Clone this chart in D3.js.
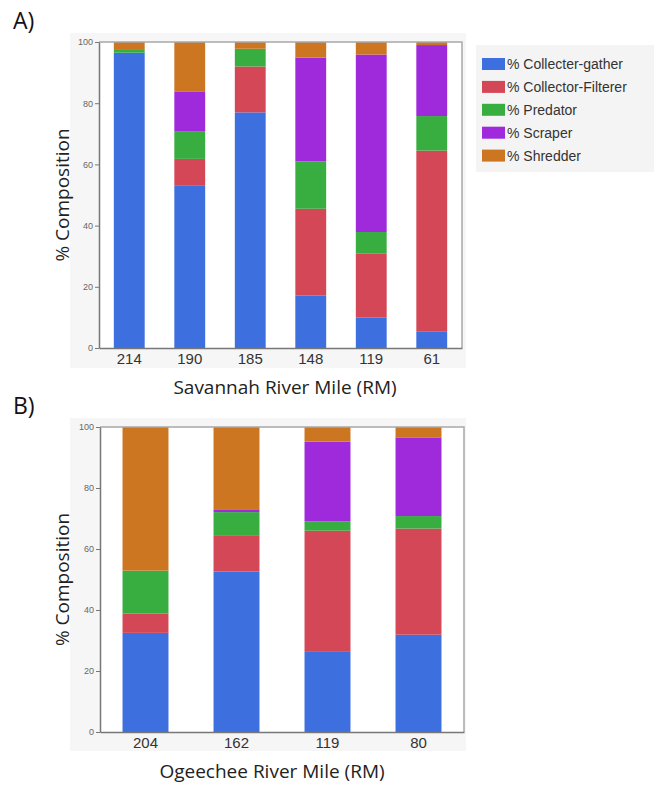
<!DOCTYPE html>
<html lang="en">
<head>
    <meta charset="UTF-8">
    <title>Functional feeding group composition</title>
    <script src="https://d3js.org/d3.v7.min.js"></script>
    <style>
        body { margin: 0; background: #fff; }
        svg { display: block; }
    </style>
</head>
<body>
    <div id="chart"></div>
    <script>
        // series (functional feeding groups) and colours
        const groupNames = ['% Collecter-gather', '% Collector-Filterer', '% Predator', '% Scraper', '% Shredder'];
        const groupColors = ['#3d6fdf', '#d44757', '#38ae41', '#9e2adc', '#cd7622'];

        // A) Savannah River
        const savannahMiles = ['214', '190', '185', '148', '119', '61'];
        const savCollecterGather = [96.5, 53.0, 77.0, 17.2, 9.9, 5.3];
        const savCollectorFilterer = [0, 8.8, 15.0, 28.3, 20.9, 59.2];
        const savPredator = [0.9, 8.9, 5.8, 15.5, 7.1, 11.3];
        const savScraper = [0, 13.0, 0, 33.9, 58.0, 23.2];
        const savShredder = [2.6, 16.3, 2.2, 5.1, 4.1, 1.0];

        // B) Ogeechee River
        const ogeecheeMiles = ['204', '162', '119', '80'];
        const ogeCollecterGather = [32.5, 52.6, 26.5, 31.9];
        const ogeCollectorFilterer = [6.3, 11.7, 39.5, 34.8];
        const ogePredator = [14.1, 7.8, 3.1, 4.1];
        const ogeScraper = [0, 0.7, 26.1, 25.8];
        const ogeShredder = [47.1, 27.2, 4.8, 3.4];

        const yTicks = [0, 20, 40, 60, 80, 100];

        const W = 654, H = 785;
        const svg = d3.select('#chart').append('svg')
            .attr('width', W)
            .attr('height', H);

        function buildRows(miles, series) {
            return miles.map((m, i) => {
                const row = { mile: m };
                groupNames.forEach((g, j) => { row[g] = series[j][i]; });
                return row;
            });
        }

        function drawPanel(opts) {
            const { letter, letterY, box, plot, rows, xTitle, xTitleX, xTitleY, pad } = opts;

            // light grey chart background
            svg.append('rect')
                .attr('x', box.x).attr('y', box.y)
                .attr('width', box.w).attr('height', box.h)
                .attr('fill', '#f6f6f6');

            svg.append('rect')
                .attr('x', plot.left).attr('y', plot.top)
                .attr('width', plot.right - plot.left)
                .attr('height', plot.bottom - plot.top)
                .attr('fill', '#fff');

            const x = d3.scaleBand()
                .domain(rows.map(d => d.mile))
                .range([plot.left, plot.right])
                .paddingInner(pad)
                .paddingOuter(pad / 2);

            const y = d3.scaleLinear()
                .domain([0, 100])
                .range([plot.bottom, plot.top]);

            const stacked = d3.stack().keys(groupNames)(rows);

            const g = svg.append('g');
            g.selectAll('g.layer')
                .data(stacked)
                .enter().append('g')
                .attr('class', 'layer')
                .attr('fill', (d, i) => groupColors[i])
                .selectAll('rect')
                .data(d => d)
                .enter().append('rect')
                .attr('x', d => x(d.data.mile))
                .attr('width', x.bandwidth())
                .attr('y', d => y(d[1]))
                .attr('height', d => y(d[0]) - y(d[1]));

            // frame: light top/right, darker left/bottom
            svg.append('path')
                .attr('d', `M${plot.left},${plot.top}H${plot.right}V${plot.bottom}`)
                .attr('fill', 'none')
                .attr('stroke', '#a8a8a8')
                .attr('stroke-width', 1.5);

            const yAxis = svg.append('g')
                .attr('transform', `translate(${plot.left},0)`)
                .call(d3.axisLeft(y).tickValues(yTicks).tickSize(4).tickSizeOuter(0).tickPadding(2));
            yAxis.select('.domain').attr('stroke', '#777').attr('stroke-width', 1.5);
            yAxis.selectAll('.tick line').attr('stroke', '#777');
            yAxis.selectAll('.tick text')
                .attr('fill', '#666')
                .style('font', '9px "Liberation Sans", Arial, sans-serif');

            const xAxis = svg.append('g')
                .attr('transform', `translate(0,${plot.bottom})`)
                .call(d3.axisBottom(x).tickSize(0).tickPadding(5));
            xAxis.select('.domain').attr('stroke', '#777').attr('stroke-width', 1.5);
            xAxis.selectAll('.tick text')
                .attr('fill', '#333')
                .style('font', '15px "Liberation Sans", Arial, sans-serif');

            // axis titles
            svg.append('text')
                .attr('transform', `translate(${box.x - 1},${(plot.top + plot.bottom) / 2}) rotate(-90)`)
                .attr('text-anchor', 'middle')
                .attr('fill', '#222')
                .style('font', '19px "Open Sans", sans-serif')
                .text('% Composition');

            svg.append('text')
                .attr('x', xTitleX)
                .attr('y', xTitleY)
                .attr('text-anchor', 'middle')
                .attr('fill', '#222')
                .style('font', '19px "Open Sans", sans-serif')
                .text(xTitle);

            svg.append('text')
                .attr('x', 13)
                .attr('y', letterY)
                .attr('fill', '#111')
                .style('font', '23px "Open Sans", sans-serif')
                .text(letter);
        }

        drawPanel({
            letter: 'A)', letterY: 29,
            box: { x: 70, y: 33, w: 396, h: 335 },
            plot: { left: 99, right: 462, top: 42, bottom: 348 },
            rows: buildRows(savannahMiles, [savCollecterGather, savCollectorFilterer, savPredator, savScraper, savShredder]),
            xTitle: 'Savannah River Mile (RM)', xTitleX: 285, xTitleY: 394,
            pad: 0.49
        });

        drawPanel({
            letter: 'B)', letterY: 414,
            box: { x: 70, y: 418, w: 396, h: 333 },
            plot: { left: 100, right: 464, top: 427, bottom: 732 },
            rows: buildRows(ogeecheeMiles, [ogeCollecterGather, ogeCollectorFilterer, ogePredator, ogeScraper, ogeShredder]),
            xTitle: 'Ogeechee River Mile (RM)', xTitleX: 272, xTitleY: 778,
            pad: 0.495
        });

        // legend
        const legend = svg.append('g');
        legend.append('rect')
            .attr('x', 476).attr('y', 45)
            .attr('width', 178).attr('height', 127)
            .attr('fill', '#f4f4f4');

        const item = legend.selectAll('g.item')
            .data(groupNames)
            .enter().append('g')
            .attr('class', 'item')
            .attr('transform', (d, i) => `translate(482,${58 + i * 22.9})`);
        item.append('rect')
            .attr('width', 23).attr('height', 12)
            .attr('fill', (d, i) => groupColors[i]);
        item.append('text')
            .attr('x', 25).attr('y', 11)
            .attr('fill', '#333')
            .style('font', '14px "Liberation Sans", Arial, sans-serif')
            .text(d => d);
    </script>
</body>
</html>
